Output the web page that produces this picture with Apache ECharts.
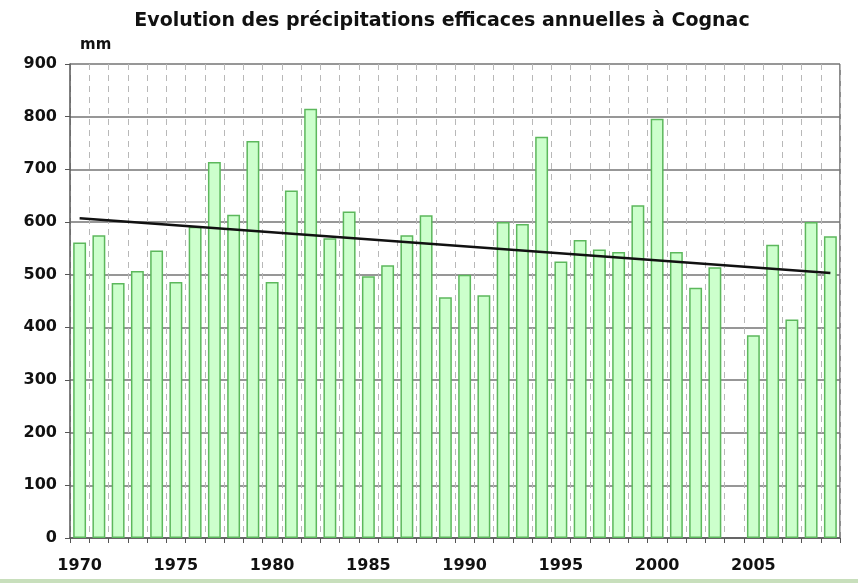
<!DOCTYPE html>
<html><head><meta charset="utf-8">
<script src="https://cdn.jsdelivr.net/npm/echarts@6/dist/echarts.min.js"></script>
<style>html,body{margin:0;padding:0;background:#fff}#c{width:858px;height:583px}</style>
</head><body><div id="c"></div>
<script>
const years = ['1970','1971','1972','1973','1974','1975','1976','1977','1978','1979','1980','1981','1982','1983','1984','1985','1986','1987','1988','1989','1990','1991','1992','1993','1994','1995','1996','1997','1998','1999','2000','2001','2002','2003','2004','2005','2006','2007','2008','2009'];
const precip = [561,575,484,507,546,486,591,714,614,754,486,660,815,569,620,497,518,575,613,457,500,461,600,596,762,525,566,548,543,632,796,543,475,514,null,385,557,415,600,573];
const trendYears = ['1970','2009'];
const trendValues = [607,503];
const yTicks = [0,100,200,300,400,500,600,700,800,900];

const trendData = years.map(y => { const i = trendYears.indexOf(y); return i >= 0 ? trendValues[i] : null; });
const font = '"DejaVu Sans", sans-serif';
const chart = echarts.init(document.getElementById('c'), null, {renderer:'canvas'});
chart.setOption({
  animation:false,
  title:{text:'Evolution des précipitations efficaces annuelles à Cognac', left:437, top:7, textAlign:'center',
    textStyle:{fontFamily:font, fontWeight:'bold', fontSize:19, color:'#111'}},
  graphic:[
    {type:'rect', left:0, top:579, shape:{width:858, height:4}, style:{fill:'#c8dfbc'}},
    {type:'line', shape:{x1:840, y1:64, x2:840, y2:538}, style:{stroke:'#666', lineWidth:1.5}}
  ],
  grid:{left:70, right:18, top:64, bottom:45},
  xAxis:{type:'category', data:years, boundaryGap:true,
    axisLine:{lineStyle:{color:'#555', width:1.5}},
    axisTick:{show:true, interval:0, length:5, lineStyle:{color:'#555'}},
    axisLabel:{interval:4, color:'#111', fontFamily:font, fontWeight:'bold', fontSize:16, margin:20},
    splitLine:{show:true, interval:0, lineStyle:{color:'#b8b8b8', type:[6,5], width:1}}},
  yAxis:{type:'value', min:0, max:900, interval:100, name:'mm', nameLocation:'end', nameGap:11,
    nameTextStyle:{fontFamily:font, fontWeight:'bold', fontSize:15, color:'#111', align:'left', padding:[0,0,0,10]},
    axisLine:{show:true, lineStyle:{color:'#555', width:1.5}},
    axisTick:{show:true, length:5, lineStyle:{color:'#555'}},
    axisLabel:{color:'#111', fontFamily:font, fontWeight:'bold', fontSize:16, margin:13,
      formatter:v => yTicks.includes(v) ? String(v) : ''},
    splitLine:{show:true, lineStyle:{color:'#747474', width:1.5}}},
  series:[
    {type:'bar', data:precip, barCategoryGap:'33%',
      itemStyle:{color:'#ccffcc', borderColor:'#5cb85c', borderWidth:1.5}},
    {type:'line', data:trendData, connectNulls:true, symbol:'none',
      lineStyle:{color:'#111', width:2.5}, z:5}
  ]
});
</script></body></html>
